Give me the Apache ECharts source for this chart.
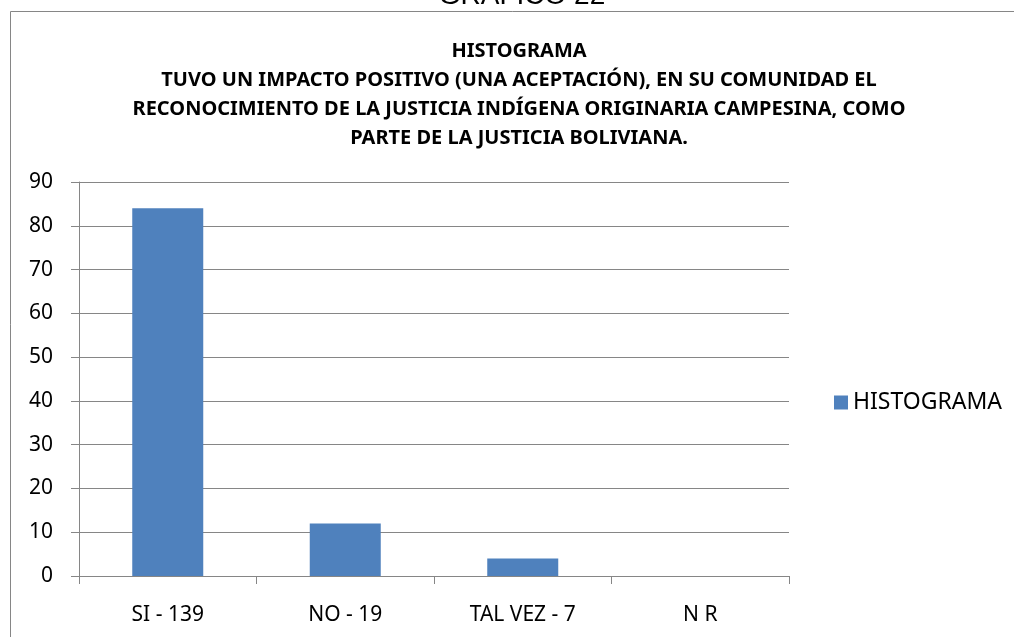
<!DOCTYPE html>
<html>
<head>
<meta charset="utf-8">
<style>
  html, body { margin: 0; padding: 0; background: #fff; }
  #chart { width: 1014px; height: 637px; }
</style>
<script src="https://cdn.jsdelivr.net/npm/echarts@6/dist/echarts.min.js"></script>
</head>
<body>
<div id="chart"></div>
<script>
const caption = 'GRAFICO 22'
const titleLines = [
    'HISTOGRAMA',
    'TUVO UN IMPACTO POSITIVO (UNA ACEPTACIÓN), EN SU COMUNIDAD EL',
    'RECONOCIMIENTO DE LA JUSTICIA INDÍGENA ORIGINARIA CAMPESINA, COMO',
    'PARTE DE LA JUSTICIA BOLIVIANA.'
]
const seriesName = 'HISTOGRAMA'
const categories = ['SI - 139', 'NO - 19', 'TAL VEZ - 7', 'N R']
const values = [84, 12, 4, 0]

const font = 'Noto Sans'
const gray = '#868686'

const chart = echarts.init(document.getElementById('chart'), null, { renderer: 'canvas' })

chart.setOption({
    animation: false,
    backgroundColor: '#fff',
    graphic: [
        {
            type: 'rect',
            shape: { x: 10.5, y: 11.5, width: 1100, height: 700 },
            style: { fill: 'none', stroke: gray, lineWidth: 1 }
        },
        {
            type: 'text',
            x: 522,
            y: 10,
            style: {
                text: caption,
                fontFamily: 'Liberation Sans',
                fontSize: 28,
                fill: '#000',
                textAlign: 'center',
                textVerticalAlign: 'bottom'
            }
        }
    ],
    title: {
        text: titleLines.join('\n'),
        left: 514,
        top: 32,
        textAlign: 'center',
        textStyle: {
            fontFamily: font,
            fontWeight: 'bold',
            fontSize: 20,
            lineHeight: 29,
            color: '#000'
        }
    },
    legend: {
        data: [seriesName],
        left: 829,
        top: 386,
        orient: 'vertical',
        icon: 'rect',
        itemWidth: 14,
        itemHeight: 14,
        itemGap: 8,
        textStyle: { fontFamily: font, fontSize: 23, color: '#000' }
    },
    grid: { left: 79, right: 225, top: 182, bottom: 61, containLabel: false },
    xAxis: {
        type: 'category',
        data: categories,
        axisLine: { lineStyle: { color: gray } },
        axisTick: { show: true, length: 8, lineStyle: { color: gray } },
        axisLabel: { margin: 29, fontFamily: font, fontSize: 21, color: '#000' }
    },
    yAxis: {
        type: 'value',
        min: 0,
        max: 90,
        interval: 10,
        axisLine: { show: true, lineStyle: { color: gray } },
        axisTick: { show: true, length: 8, lineStyle: { color: gray } },
        splitLine: { lineStyle: { color: gray } },
        axisLabel: { margin: 26, fontFamily: font, fontSize: 21, color: '#000' }
    },
    series: [
        {
            name: seriesName,
            type: 'bar',
            data: values,
            barWidth: 71,
            itemStyle: { color: '#4F81BD' }
        }
    ]
})
</script>
</body>
</html>
